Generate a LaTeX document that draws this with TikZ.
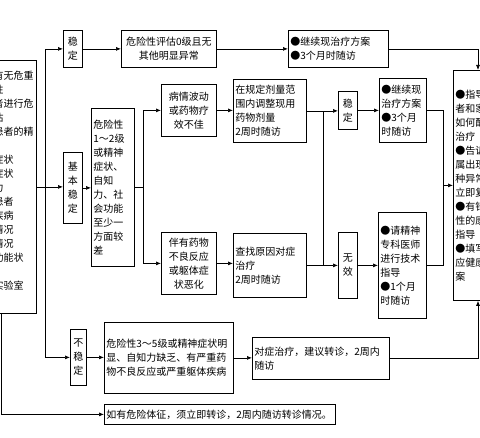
\documentclass[tikz,border=0pt]{standalone}
\usepackage{fontspec}
\setmainfont{Noto Sans CJK SC}
\usetikzlibrary{arrows.meta}

\tikzset{
    box/.style={draw, line width=0.8pt, inner sep=2pt, anchor=north west, font=\fontsize{10}{14}\selectfont},
    vbox/.style={box, align=center, minimum width=19},
    arr/.style={-{Latex[length=5pt,width=4pt]}, line width=0.7pt},
}

\begin{document}
\begin{tikzpicture}[x=1pt, y=-1pt]
    \useasboundingbox (0,0) rectangle (480,438);
    \fill[white] (0,0) rectangle (480,438);

    % Follow-up content (cut at the left edge)
    \node[box, anchor=north east, text width=41, minimum height=253, align=left] (lbox) at (37,60)
        {有无危重\\性\\者进行危\\估\\患者的精\\\mbox{}\\症状\\症状\\力\\患者\\疾病\\情况\\情况\\功能状\\\mbox{}\\实验室\\\mbox{}};

    % Stable
    \node[vbox, minimum height=37] (wd1) at (63,30) {稳\\定};
    \node[box, minimum width=95, minimum height=37, align=center] (r0) at (121,30) {危险性评估0级且无\\其他明显异常};
    \node[box, text width=96, minimum height=37, align=left] (c0) at (288,30) {●继续现治疗方案\\●3个月时随访};

    % Basically stable
    \node[vbox, minimum height=71] (jb) at (63,152) {基\\本\\稳\\定};
    \node[box, text width=39, minimum height=158, align=left] (risk12) at (91,108)
        {危险性\\1～2级\\或精神\\症状、\\自知\\力、社\\会功能\\至少一\\方面较\\差};
    \node[box, minimum width=55, minimum height=52, align=center] (fluct) at (161,84) {病情波动\\或药物疗\\效不佳};
    \node[box, minimum width=55, minimum height=62, align=center] (adverse) at (161,232) {伴有药物\\不良反应\\或躯体症\\状恶化};
    \node[box, text width=69, minimum height=63, align=left] (adjust) at (233,79) {在规定剂量范\\围内调整现用\\药物剂量\\2周时随访};
    \node[box, text width=69, minimum height=64, align=left] (cause) at (233,233) {查找原因对症\\治疗\\2周时随访};
    \node[vbox, minimum height=38] (wd2) at (338,91) {稳\\定};
    \node[vbox, minimum height=66] (nx) at (338,232) {无\\效};
    \node[box, text width=43, minimum height=64, align=left] (c1) at (379,78) {●继续现\\治疗方案\\●3个月\\时随访};
    \node[box, text width=44, minimum height=106, align=left] (spec) at (378,212)
        {●请精神\\专科医师\\进行技术\\指导\\●1个月\\时随访};

    % Guidance (cut at the right edge)
    \node[box, text width=56, minimum height=230, align=left] (rbox) at (453,70)
        {●指导\\者和家\\如何配\\治疗\\●告诉\\属出现\\种异常\\立即复\\●有针\\性的康\\指导\\●填写\\应健康\\案};

    % Unstable
    \node[vbox, minimum width=16, minimum height=56] (bwd) at (70,329) {不\\稳\\定};
    \node[box, text width=125, minimum height=71, align=left] (risk35) at (104,322)
        {危险性3～5级或精神症状明\\显、自知力缺乏、有严重药\\物不良反应或严重躯体疾病};
    \node[box, text width=133, minimum height=42, align=left] (sym) at (252,337) {对症治疗，建议转诊，2周内\\随访};
    \node[box, text width=227, minimum height=20, align=left] (warn) at (104,404) {如有危险体征，须立即转诊，2周内随访转诊情况。};

    % Trunk
    \coordinate (trunk) at ([xshift=8pt]lbox.east);
    \draw[arr] (lbox.east) -- (lbox.east -| jb.west);
    \draw[arr] (trunk) |- (wd1.west);
    \draw[arr] (trunk) |- (bwd.west);
    \draw[arr] ([xshift=10pt]lbox.south west) |- (warn.west);

    % Stable row
    \draw[arr] (wd1.east) -- (r0.west);
    \draw[arr] (r0.east) -- (c0.west);
    \draw[arr] (c0.east) -| ([xshift=25pt]rbox.north west);

    % Basically stable rows
    \draw[arr] (jb.east) -- (jb.east -| risk12.west);
    \coordinate (fork) at ([xshift=9pt]risk12.east);
    \draw (risk12.east) -- (fork);
    \draw[arr] (fork) |- (fluct.west);
    \draw[arr] (fork) |- (adverse.west);
    \draw[arr] (fluct.east) -- (fluct.east -| adjust.west);
    \draw[arr] (adverse.east) -- (adverse.east -| cause.west);
    \coordinate (merge) at ([xshift=16pt]adjust.east);
    \draw (adjust.east) -- (merge) -- (merge |- cause.east) -- (cause.east);
    \draw[arr] (merge) -- (merge -| wd2.west);
    \draw[arr] (merge |- nx.west) -- (nx.west);
    \draw[arr] (wd2.east) -- (wd2.east -| c1.west);
    \draw[arr] (nx.east) -- (nx.east -| spec.west);
    \coordinate (merge2) at ([xshift=16pt]c1.east);
    \draw (c1.east) -- (merge2) -- (merge2 |- spec.east) -- (spec.east);
    \draw[arr] (merge2 |- rbox.west) -- (rbox.west);

    % Unstable row
    \draw[arr] (bwd.east) -- (bwd.east -| risk35.west);
    \draw[arr] (risk35.east) -- (risk35.east -| sym.west);
    \draw[arr] (sym.east) -| ([xshift=25pt]rbox.south west);
\end{tikzpicture}
\end{document}
